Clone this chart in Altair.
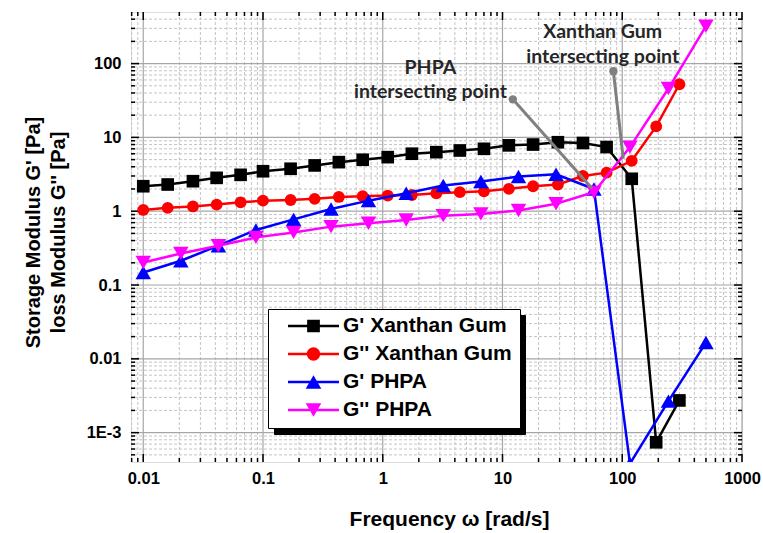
import altair as alt
import pandas as pd

# ---- measured data -------------------------------------------------------
series_names = ["G' Xanthan Gum", "G'' Xanthan Gum", "G' PHPA", "G'' PHPA"]
series_colors = ["#000000", "#ff0000", "#0000ff", "#ff00ff"]

# angular frequency (rad/s) of each sweep
freq_xanthan = [0.01, 0.016, 0.026, 0.041, 0.065, 0.10, 0.17, 0.27, 0.43, 0.68,
                1.1, 1.75, 2.8, 4.4, 7.0, 11.3, 18, 29, 47, 74, 120, 192, 300]
freq_phpa = [0.01, 0.0206, 0.0424, 0.0873, 0.18, 0.37, 0.76, 1.57, 3.2, 6.6,
             13.6, 28, 58, 116, 243, 500]

# moduli (Pa)
g_storage_xanthan = [2.18, 2.30, 2.55, 2.83, 3.11, 3.48, 3.76, 4.17, 4.62, 4.98,
                     5.40, 6.01, 6.31, 6.65, 7.0, 7.8, 8.0, 8.6, 8.4, 7.4, 2.75,
                     0.00074, 0.00273]
g_loss_xanthan = [1.04, 1.11, 1.16, 1.23, 1.32, 1.39, 1.42, 1.47, 1.56, 1.60,
                  1.63, 1.66, 1.75, 1.81, 1.86, 2.01, 2.18, 2.30, 3.0, 3.33,
                  4.82, 14.1, 52.5]
g_storage_phpa = [0.148, 0.213, 0.341, 0.557, 0.776, 1.07, 1.39, 1.75, 2.23,
                  2.53, 2.95, 3.17, 2.0, 0.00038, 0.00267, 0.0166]
g_loss_phpa = [0.202, 0.268, 0.341, 0.442, 0.516, 0.618, 0.685, 0.762, 0.871,
               0.919, 1.02, 1.26, 1.81, 7.38, 45.9, 322]

# callouts for the crossover points
callout_text = ["PHPA", "intersecting point", "Xanthan Gum", "intersecting point"]
callout_x = [2.5, 2.5, 68.7, 68.7]
callout_y = [87, 41, 270, 123]
pointer_x = [12.2, 84.3]
pointer_y = [32.8, 78.9]
pointer_x2 = [56, 102]
pointer_y2 = [2.03, 5.14]

# axis ticks
x_major = [0.01, 0.1, 1, 10, 100, 1000]
y_major = [0.001, 0.01, 0.1, 1, 10, 100]

# ---- styling ------------------------------------------------------------------
W, H = 611, 450
X_DOMAIN = [0.0079, 1000]
Y_DOMAIN = [4e-4, 500]
FONT = "Liberation Sans"
TICK_FONT = 16.5

x_minor = [m * 10.0 ** e for e in range(-3, 3) for m in range(2, 10)
           if X_DOMAIN[0] < m * 10.0 ** e < X_DOMAIN[1]]
y_minor = [m * 10.0 ** e for e in range(-4, 3) for m in range(2, 10)
           if Y_DOMAIN[0] < m * 10.0 ** e < Y_DOMAIN[1]]

x_axis = alt.Axis(values=x_major, grid=False, ticks=False, domain=False,
                  labelExpr="format(datum.value, '~g')",
                  labelFont=FONT, labelFontSize=TICK_FONT, labelFontWeight="bold",
                  labelColor="black", labelPadding=8, labelFlush=False,
                  labelOverlap=False, labelBound=False,
                  title="Frequency ω [rad/s]", titleFont=FONT, titleFontSize=21,
                  titleFontWeight="bold", titleColor="black", titlePadding=22,
                  titleAlign="center", titleX=318)
y_axis = alt.Axis(values=y_major, grid=False, ticks=False, domain=False,
                  labelExpr="datum.value < 0.005 ? '1E-3' : format(datum.value, '~g')",
                  labelFont=FONT, labelFontSize=TICK_FONT, labelFontWeight="bold",
                  labelColor="black", labelPadding=10, labelFlush=False,
                  labelOverlap=False, labelBound=False,
                  title=["Storage Modulus G' [Pa]", "loss Modulus G'' [Pa]"],
                  titleFont=FONT, titleFontSize=20, titleFontWeight="bold",
                  titleColor="black", titleLineHeight=25, titleAngle=-90,
                  titleAlign="center", titleBaseline="middle",
                  titleX=-98, titleY=220)

x_scale = alt.Scale(type="log", domain=X_DOMAIN, nice=False)
y_scale = alt.Scale(type="log", domain=Y_DOMAIN, nice=False)


def X(field):
    return alt.X(field, type="quantitative", scale=x_scale, axis=x_axis)


def Y(field):
    return alt.Y(field, type="quantitative", scale=y_scale, axis=y_axis)


layers = []

# grid
xg_minor = pd.DataFrame({"v": x_minor})
yg_minor = pd.DataFrame({"v": y_minor})
xg_major = pd.DataFrame({"v": x_major})
yg_major = pd.DataFrame({"v": y_major})
dash = dict(color="#c4c4c4", strokeWidth=1, strokeDash=[3, 2])
layers.append(alt.Chart(xg_minor).mark_rule(**dash).encode(x=X("v")))
layers.append(alt.Chart(yg_minor).mark_rule(**dash).encode(y=Y("v")))
solid = dict(color="#a6a6a6", strokeWidth=1.2)
layers.append(alt.Chart(xg_major).mark_rule(**solid).encode(x=X("v")))
layers.append(alt.Chart(yg_major).mark_rule(**solid).encode(y=Y("v")))

# inward ticks on all four sides
for df, length in [(xg_major, 8), (xg_minor, 4)]:
    layers.append(alt.Chart(df).mark_rule(color="black", strokeWidth=1.5).encode(
        x=X("v"), y=alt.value(H), y2=alt.value(H - length)))
    layers.append(alt.Chart(df).mark_rule(color="black", strokeWidth=1.5).encode(
        x=X("v"), y=alt.value(0), y2=alt.value(length)))
for df, length in [(yg_major, 8), (yg_minor, 4)]:
    layers.append(alt.Chart(df).mark_rule(color="black", strokeWidth=1.5).encode(
        y=Y("v"), x=alt.value(0), x2=alt.value(length)))
    layers.append(alt.Chart(df).mark_rule(color="black", strokeWidth=1.5).encode(
        y=Y("v"), x=alt.value(W), x2=alt.value(W - length)))

# data series
rows = []
for name, xs, ys in [(series_names[0], freq_xanthan, g_storage_xanthan),
                     (series_names[1], freq_xanthan, g_loss_xanthan),
                     (series_names[2], freq_phpa, g_storage_phpa),
                     (series_names[3], freq_phpa, g_loss_phpa)]:
    for f, v in zip(xs, ys):
        rows.append({"series": name, "freq": f, "modulus": v})
data = pd.DataFrame(rows)

marker_shapes = ["square", "circle", "triangle-up", "triangle-down"]
marker_sizes = [160, 140, 240, 240]
base = alt.Chart(data)
for name, col, shp, sz in zip(series_names, series_colors, marker_shapes, marker_sizes):
    sub = base.transform_filter(alt.datum.series == name)
    layers.append(sub.mark_line(color=col, strokeWidth=2.5, clip=True).encode(
        x=X("freq"), y=Y("modulus")))
    layers.append(sub.mark_point(shape=shp, size=sz, filled=True, color=col,
                                 opacity=1, strokeWidth=0, clip=True).encode(
        x=X("freq"), y=Y("modulus")))

# crossover callouts
pointers = pd.DataFrame({"x": pointer_x, "y": pointer_y,
                         "x2": pointer_x2, "y2": pointer_y2})
layers.append(alt.Chart(pointers).mark_rule(color="#808080", strokeWidth=3).encode(
    x=X("x"), y=Y("y"), x2="x2", y2="y2"))
layers.append(alt.Chart(pointers).mark_point(filled=True, color="#808080", size=70,
                                             opacity=1).encode(x=X("x"), y=Y("y")))
callouts = pd.DataFrame({"text": callout_text, "x": callout_x, "y": callout_y})
layers.append(alt.Chart(callouts).mark_text(font="Lato", fontWeight="bold", fontSize=19.5,
                                            color="#262626").encode(
    x=X("x"), y=Y("y"), text="text"))

# legend: line sample with the marker on it
seg = "M-4.25,-0.21H-0.5V0.21H-4.25Z M0.5,-0.21H4.25V0.21H0.5Z "
legend_symbols = [
    seg + "M-1.06,-1.06H1.06V1.06H-1.06Z",
    seg + "M-1.11,0A1.11,1.11 0 1 1 1.11,0A1.11,1.11 0 1 1 -1.11,0Z",
    seg + "M0,-1.13L1.3,1.13L-1.3,1.13Z",
    seg + "M-1.3,-1.13L1.3,-1.13L0,1.13Z",
]

LEG_X, LEG_Y = 137, 297
LEG_COMMON = dict(title=None, orient="none", direction="vertical", padding=8,
                  cornerRadius=0, labelFont=FONT, labelFontWeight="bold",
                  labelFontSize=21, labelColor="black", labelLimit=400,
                  clipHeight=18, rowPadding=7, symbolStrokeWidth=0,
                  symbolOpacity=1)

main_leg = alt.Legend(legendX=LEG_X, legendY=LEG_Y, fillColor="white",
                      strokeColor="black", symbolSize=144, symbolOffset=27,
                      labelOffset=19, zindex=2, **LEG_COMMON)

# drop shadow: an unlabeled legend of the same box size, offset down-right;
# its (hairline) symbols only set the column width
SHADOW_COL = 235
shadow_leg = alt.Legend(legendX=LEG_X + 6, legendY=LEG_Y + 6, fillColor="black",
                        strokeColor="black", symbolSize=SHADOW_COL ** 2,
                        symbolOffset=0, labelOffset=0, labelExpr="''", zindex=1,
                        **LEG_COMMON)
shadow_df = pd.DataFrame({"entry": series_names})
layers.append(alt.Chart(shadow_df).transform_filter("false").mark_point(
    filled=True, opacity=1, size=SHADOW_COL ** 2).encode(
    color=alt.Color("entry:N", scale=alt.Scale(domain=series_names, range=["black"] * 4),
                    legend=shadow_leg),
    shape=alt.Shape("entry:N", scale=alt.Scale(domain=series_names,
                                               range=["M-1,0H1V0.004H-1Z"] * 4),
                    legend=shadow_leg)))

legend_df = pd.DataFrame({"label": series_names})
layers.append(alt.Chart(legend_df).transform_filter("false").mark_point(
    filled=True, opacity=1, size=144).encode(
    color=alt.Color("label:N", scale=alt.Scale(domain=series_names, range=series_colors),
                    legend=main_leg),
    shape=alt.Shape("label:N", scale=alt.Scale(domain=series_names, range=legend_symbols),
                    legend=main_leg)))

chart = alt.layer(*layers).resolve_scale(
    color="independent", shape="independent"
).resolve_legend(
    color="independent", shape="independent"
).properties(
    width=W, height=H,
    padding={"left": 131, "top": 12, "right": 21, "bottom": 71},
    autosize=alt.AutoSizeParams(type="none"),
).configure_view(
    stroke="black", strokeWidth=2
).configure_legend(
    strokeWidth=2
).configure(background="white")

chart.save("out.html", embed_options={"renderer": "svg", "actions": False})
